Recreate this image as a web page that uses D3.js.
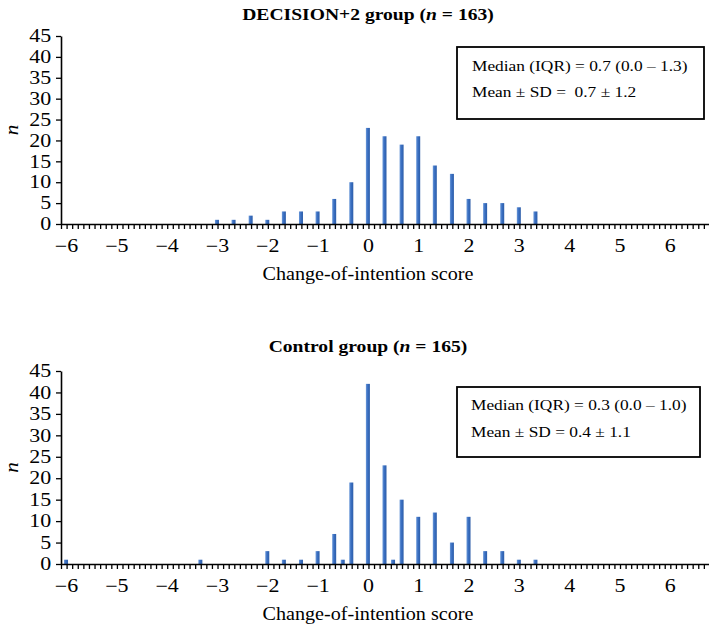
<!DOCTYPE html>
<html>
<head>
<meta charset="utf-8">
<script src="https://cdn.jsdelivr.net/npm/d3@7"></script>
<style>
  html, body { margin: 0; padding: 0; background: #fff; }
  svg { display: block; }
  text { font-family: "Liberation Serif", "Times New Roman", serif; fill: #000; white-space: pre; }
</style>
</head>
<body>
<svg id="chart" width="709" height="626"></svg>
<script>
// ---------- data ----------
const topScores   = [-3, -2.67, -2.33, -2, -1.67, -1.33, -1, -0.67, -0.33, 0, 0.33, 0.67, 1, 1.33, 1.67, 2, 2.33, 2.67, 3, 3.33];
const topCounts   = [1, 1, 2, 1, 3, 3, 3, 6, 10, 23, 21, 19, 21, 14, 12, 6, 5, 5, 4, 3];
const ctrlScores  = [-6, -3.33, -2, -1.67, -1.33, -1, -0.67, -0.5, -0.33, 0, 0.33, 0.5, 0.67, 1, 1.33, 1.67, 2, 2.33, 2.67, 3, 3.33];
const ctrlCounts  = [1, 1, 3, 1, 1, 3, 7, 1, 19, 42, 23, 1, 15, 11, 12, 5, 11, 3, 3, 1, 1];
const xLabelTicks = [-6, -5, -4, -3, -2, -1, 0, 1, 2, 3, 4, 5, 6];
const yTicks      = [0, 5, 10, 15, 20, 25, 30, 35, 40, 45];
const titles      = ["DECISION+2 group", "Control group"];
const groupN      = [163, 165];
const statLines   = [
  ["Median (IQR) = 0.7 (0.0 \u2013 1.3)", "Mean \u00b1 SD =  0.7 \u00b1 1.2"],
  ["Median (IQR) = 0.3 (0.0 \u2013 1.0)", "Mean \u00b1 SD = 0.4 \u00b1 1.1"]
];
const xAxisTitle = "Change-of-intention score";
const yAxisTitle = "n";

// ---------- layout ----------
const SX = 1.12;     // horizontal text stretch of the reference
const SXT = 1.22;    // stretch of tick labels
const svg = d3.select("#chart");
const defs = svg.append("defs");
const grad = defs.append("linearGradient").attr("id", "barGrad")
  .attr("x1", "0%").attr("x2", "100%").attr("y1", "0%").attr("y2", "0%");
grad.append("stop").attr("offset", "0%").attr("stop-color", "#6a98d8");
grad.append("stop").attr("offset", "45%").attr("stop-color", "#3a6fc2");
grad.append("stop").attr("offset", "100%").attr("stop-color", "#2c5da8");

const x = d3.scaleLinear().domain([-6.1, 6.78]).range([61, 709]);
const minorTicks = d3.range(0, 117).map(k => -6.1 + k / 9).filter(v => v <= 6.79);

const panels = [
  { scores: topScores,  counts: topCounts,  y0: 224, y1: 36,  titleY: 20,  box: [457, 47, 247, 72],  statY: [71, 97],   statX: 472 },
  { scores: ctrlScores, counts: ctrlCounts, y0: 564, y1: 371, titleY: 352, box: [457, 387, 243, 70], statY: [410, 437], statX: 471 }
];

function stretchText(g, tx, ty, size, anchor) {
  return g.append("text")
    .attr("transform", `translate(${tx},${ty}) scale(${SX},1)`)
    .attr("text-anchor", anchor || "start")
    .style("font-size", size + "px");
}

panels.forEach((p, i) => {
  const y = d3.scaleLinear().domain([0, 45]).range([p.y0, p.y1]);
  const g = svg.append("g");

  // bars
  const data = p.scores.map((s, j) => ({ s, c: p.counts[j] }));
  g.selectAll("rect.bar").data(data).enter().append("rect")
    .attr("class", "bar")
    .attr("x", d => x(d.s) - 2)
    .attr("width", 4)
    .attr("y", d => y(d.c))
    .attr("height", d => y(0) - y(d.c))
    .attr("fill", "url(#barGrad)");

  // x axis: minor ticks
  const xMinor = g.append("g").attr("transform", `translate(0,${p.y0})`)
    .call(d3.axisBottom(x).tickValues(minorTicks).tickFormat("").tickSize(5).tickSizeOuter(0));
  xMinor.select(".domain").attr("stroke", "#000").attr("stroke-width", 1.6);
  xMinor.selectAll(".tick line").attr("stroke", "#000").attr("stroke-width", 1.3);

  // x axis labels
  const xLab = g.append("g").attr("transform", `translate(0,${p.y0})`)
    .call(d3.axisBottom(x).tickValues(xLabelTicks).tickSize(0)
      .tickFormat(v => (v < 0 ? "\u2212" + Math.abs(v) : String(v))));
  xLab.select(".domain").remove();
  xLab.selectAll(".tick text")
    .attr("y", 0).attr("dy", 0)
    .attr("transform", `translate(0,28) scale(${SXT},1)`)
    .style("font-size", "18px")
    .style("font-family", "'Liberation Serif', 'Times New Roman', serif");

  // y axis
  const yAx = g.append("g").attr("transform", `translate(61,0)`)
    .call(d3.axisLeft(y).tickValues(yTicks).tickSize(5).tickSizeOuter(0).tickPadding(3));
  yAx.select(".domain").attr("stroke", "#000").attr("stroke-width", 1.6);
  yAx.selectAll(".tick line").attr("stroke", "#000").attr("stroke-width", 1.3);
  yAx.selectAll(".tick text")
    .attr("transform", `scale(${SXT},1)`)
    .style("font-size", "18px")
    .style("font-family", "'Liberation Serif', 'Times New Roman', serif");

  // y title
  svg.append("text")
    .attr("transform", `translate(18,${(p.y0 + p.y1) / 2}) rotate(-90) scale(${SX},1)`)
    .attr("text-anchor", "middle")
    .style("font-size", "19px").style("font-style", "italic")
    .text(yAxisTitle);

  // x title
  stretchText(svg, 368, p.y0 + 56, 18, "middle").text(xAxisTitle);

  // panel title
  const t = stretchText(svg, 368, p.titleY, 17.5, "middle").style("font-weight", "bold");
  t.append("tspan").text(titles[i] + " (");
  t.append("tspan").style("font-style", "italic").text("n");
  t.append("tspan").text(" = " + groupN[i] + ")");

  // stats box
  svg.append("rect")
    .attr("x", p.box[0]).attr("y", p.box[1]).attr("width", p.box[2]).attr("height", p.box[3])
    .attr("fill", "#fff").attr("stroke", "#000").attr("stroke-width", 1.8);
  statLines[i].forEach((line, k) => {
    stretchText(svg, p.statX, p.statY[k], 15.5, "start").text(line);
  });
});
</script>
</body>
</html>
